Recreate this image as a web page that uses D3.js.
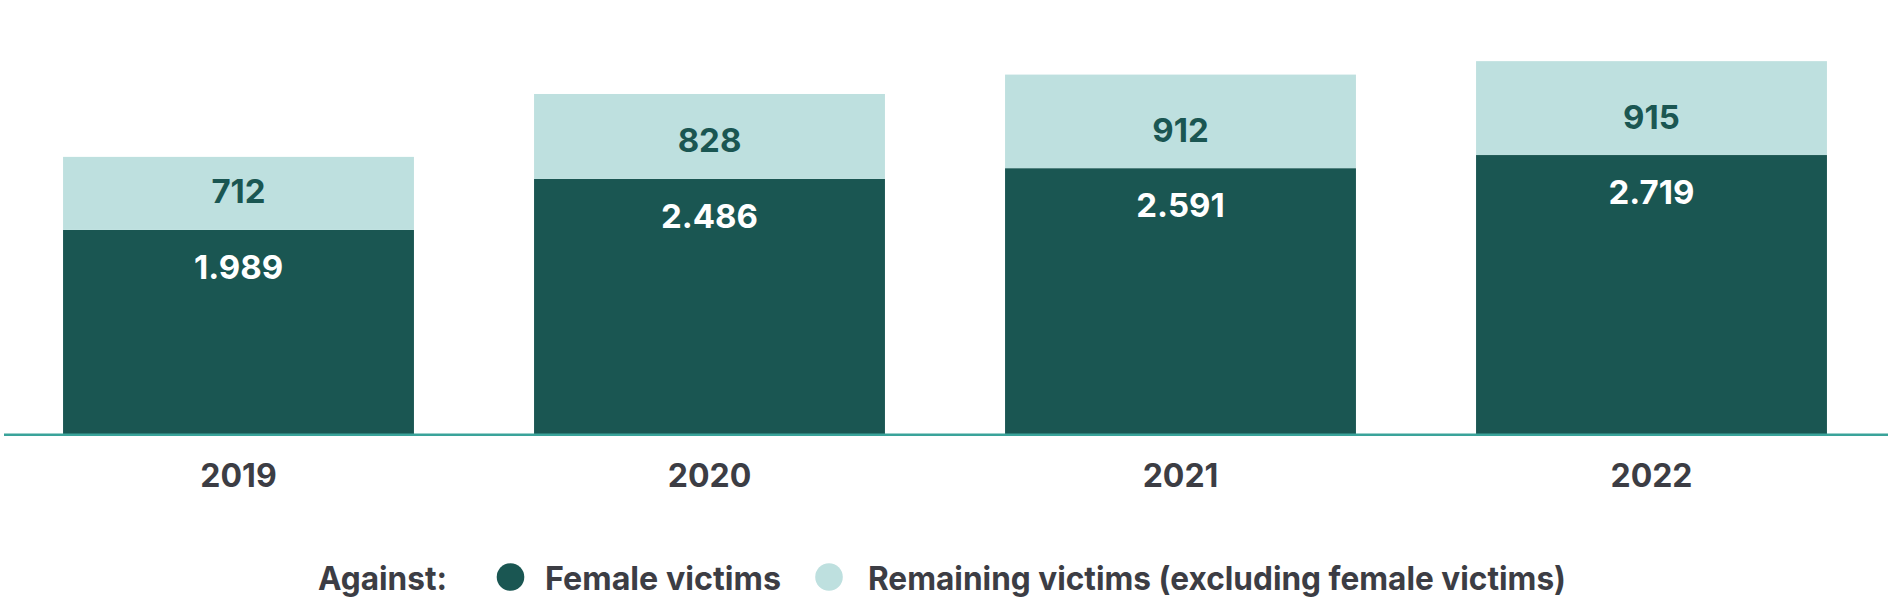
<!DOCTYPE html>
<html>
<head>
<meta charset="utf-8">
<script src="https://cdn.jsdelivr.net/npm/d3@7"></script>
<style>
  html, body { margin: 0; padding: 0; background: #ffffff; }
  svg { display: block; font-family: Inter, "Open Sans", sans-serif; }
</style>
</head>
<body>
<svg id="chart" width="1888" height="597"></svg>
<script>
const years = ["2019", "2020", "2021", "2022"];
const femaleVictims = [1989, 2486, 2591, 2719];
const remainingVictims = [712, 828, 912, 915];
const seriesNames = ["Female victims", "Remaining victims (excluding female victims)"];
const legendTitle = "Against:";

const colors = { female: "#1a5652", remaining: "#bee0df", axis: "#3aa39a", text: "#3c3d44" };
const fmt = v => d3.format(",")(v).replace(/,/g, ".");

const svg = d3.select("#chart");
const baseY = 434;

const x = d3.scaleBand().domain(years).range([3, 1887]).paddingInner(0.255).paddingOuter(0.1275);
const y = d3.scaleLinear().domain([0, 4000]).range([baseY, baseY - 4000 * 0.1026]);

const data = years.map((yr, i) => ({ year: yr, female: femaleVictims[i], remaining: remainingVictims[i] }));
const stack = d3.stack().keys(["female", "remaining"])(data);

const g = svg.append("g");
g.selectAll("g.layer").data(stack).join("g")
  .attr("class", "layer")
  .attr("fill", d => d.key === "female" ? colors.female : colors.remaining)
  .selectAll("rect").data(d => d).join("rect")
  .attr("x", d => x(d.data.year))
  .attr("width", x.bandwidth())
  .attr("y", d => y(d[1]))
  .attr("height", d => y(d[0]) - y(d[1]));

// axis line
const axis = d3.axisBottom(x).tickSize(0).tickPadding(0);
const axG = svg.append("g").attr("transform", `translate(0,${baseY})`).call(axis);
axG.select(".domain").remove();
axG.selectAll(".tick text").remove();
svg.append("line")
  .attr("x1", 4).attr("x2", 1888)
  .attr("y1", baseY + 0.8).attr("y2", baseY + 0.8)
  .attr("stroke", colors.axis).attr("stroke-width", 2.6);

// year labels
svg.append("g").selectAll("text").data(years).join("text")
  .attr("x", d => x(d) + x.bandwidth() / 2)
  .attr("y", baseY + 53)
  .attr("text-anchor", "middle")
  .attr("font-size", 32).attr("font-weight", 700)
  .attr("fill", colors.text)
  .text(d => d);

// value labels
const lab = svg.append("g").attr("font-size", 33).attr("font-weight", 700).attr("text-anchor", "middle");
lab.selectAll("text.f").data(data).join("text").attr("class", "f")
  .attr("x", d => x(d.year) + x.bandwidth() / 2)
  .attr("y", d => y(d.female) + 49)
  .attr("fill", "#ffffff")
  .text(d => fmt(d.female));
lab.selectAll("text.r").data(data).join("text").attr("class", "r")
  .attr("x", d => x(d.year) + x.bandwidth() / 2)
  .attr("y", d => y(d.female) - 26.5)
  .attr("fill", colors.female)
  .text(d => fmt(d.remaining));

// legend
const leg = svg.append("g").attr("font-size", 33).attr("font-weight", 700).attr("fill", colors.text);
const legBase = 590;
leg.append("text").attr("x", 318).attr("y", legBase)
  .attr("textLength", 129).attr("lengthAdjust", "spacingAndGlyphs").text(legendTitle);
const items = [
  { name: seriesNames[0], color: colors.female, cx: 510.5, tx: 545, tw: 236 },
  { name: seriesNames[1], color: colors.remaining, cx: 829, tx: 868, tw: 698 }
];
items.forEach(it => {
  leg.append("circle").attr("cx", it.cx).attr("cy", 577).attr("r", 13.8).attr("fill", it.color);
  leg.append("text").attr("x", it.tx).attr("y", legBase)
    .attr("textLength", it.tw).attr("lengthAdjust", "spacingAndGlyphs").text(it.name);
});
</script>
</body>
</html>
